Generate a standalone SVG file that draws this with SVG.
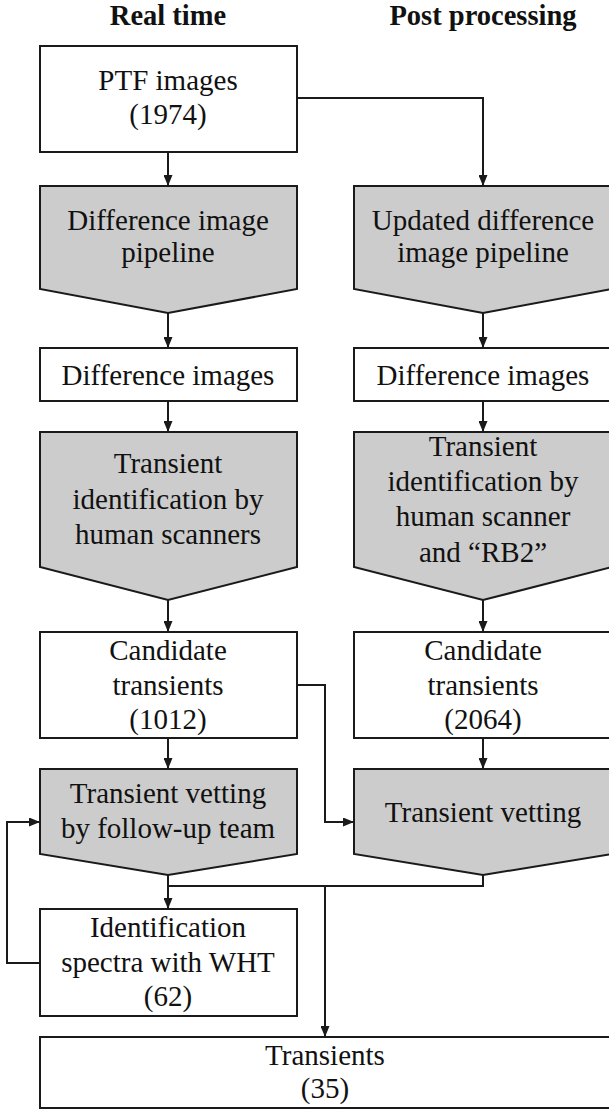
<svg xmlns="http://www.w3.org/2000/svg" width="609" height="1110" viewBox="0 0 609 1110">
<style>
.box{fill:#fff;stroke:#1a1a1a;stroke-width:2}
.proc{fill:#cccccc;stroke:#1a1a1a;stroke-width:2}
.conn{fill:none;stroke:#1a1a1a;stroke-width:2}
text{font-family:"Liberation Serif","Times New Roman",serif;font-size:29px;fill:#111;text-anchor:middle}
.title{font-weight:bold;font-size:28.5px}
</style>
<defs>
<marker id="ah" markerUnits="userSpaceOnUse" markerWidth="11" markerHeight="9" refX="10" refY="4.5" orient="auto">
<path d="M0,0 L11,4.5 L0,9 z" fill="#1a1a1a"/>
</marker>
</defs>
<g id="titles">
<text class="title" x="168" y="25">Real time</text>
<text class="title" x="483" y="25">Post processing</text>
</g>
<g id="connectors">
<path class="conn" d="M168,152 V185" marker-end="url(#ah)"/>
<path class="conn" d="M297,98 H483 V185" marker-end="url(#ah)"/>
<path class="conn" d="M168,313 V347" marker-end="url(#ah)"/>
<path class="conn" d="M483,313 V347" marker-end="url(#ah)"/>
<path class="conn" d="M168,401 V431" marker-end="url(#ah)"/>
<path class="conn" d="M483,401 V431" marker-end="url(#ah)"/>
<path class="conn" d="M168,600 V631" marker-end="url(#ah)"/>
<path class="conn" d="M483,600 V631" marker-end="url(#ah)"/>
<path class="conn" d="M168,738 V768" marker-end="url(#ah)"/>
<path class="conn" d="M483,738 V768" marker-end="url(#ah)"/>
<path class="conn" d="M297,685 H325 V822 H353" marker-end="url(#ah)"/>
<path class="conn" d="M168,875 V886 H483 V875"/>
<path class="conn" d="M168,886 V908" marker-end="url(#ah)"/>
<path class="conn" d="M325,886 V1036" marker-end="url(#ah)"/>
<path class="conn" d="M40,963 H7 V822 H39" marker-end="url(#ah)"/>
</g>
<g id="ptf">
<rect class="box" x="40" y="46" width="257" height="106"/>
<text x="168" y="90">PTF images</text>
<text x="168" y="124">(1974)</text>
</g>
<g id="pipeline-rt">
<path class="proc" d="M40,186 H297 V289 L168,313 L40,289 Z"/>
<text x="168" y="230">Difference image</text>
<text x="168" y="262">pipeline</text>
</g>
<g id="pipeline-pp">
<path class="proc" d="M354,186 H612 V289 L483,313 L354,289 Z"/>
<text x="483" y="230">Updated difference</text>
<text x="483" y="262">image pipeline</text>
</g>
<g id="diff-rt">
<rect class="box" x="40" y="348" width="257" height="53"/>
<text x="168" y="385">Difference images</text>
</g>
<g id="diff-pp">
<rect class="box" x="354" y="348" width="258" height="53"/>
<text x="483" y="385">Difference images</text>
</g>
<g id="ident-rt">
<path class="proc" d="M40,432 H297 V567 L168,600 L40,567 Z"/>
<text x="168" y="473">Transient</text>
<text x="168" y="509">identification by</text>
<text x="168" y="544">human scanners</text>
</g>
<g id="ident-pp">
<path class="proc" d="M354,432 H612 V567 L483,600 L354,567 Z"/>
<text x="483" y="456">Transient</text>
<text x="483" y="491">identification by</text>
<text x="483" y="526">human scanner</text>
<text x="483" y="562">and “RB2”</text>
</g>
<g id="cand-rt">
<rect class="box" x="40" y="632" width="257" height="106"/>
<text x="168" y="660">Candidate</text>
<text x="168" y="695">transients</text>
<text x="168" y="729">(1012)</text>
</g>
<g id="cand-pp">
<rect class="box" x="354" y="632" width="258" height="106"/>
<text x="483" y="660">Candidate</text>
<text x="483" y="695">transients</text>
<text x="483" y="729">(2064)</text>
</g>
<g id="vet-rt">
<path class="proc" d="M40,769 H297 V854 L168,875 L40,854 Z"/>
<text x="168" y="803">Transient vetting</text>
<text x="168" y="838">by follow-up team</text>
</g>
<g id="vet-pp">
<path class="proc" d="M354,769 H612 V854 L483,875 L354,854 Z"/>
<text x="483" y="822">Transient vetting</text>
</g>
<g id="spectra">
<rect class="box" x="40" y="909" width="257" height="107"/>
<text x="168" y="937">Identification</text>
<text x="168" y="972">spectra with WHT</text>
<text x="168" y="1006">(62)</text>
</g>
<g id="transients">
<rect class="box" x="40" y="1037" width="572" height="71"/>
<text x="325" y="1065">Transients</text>
<text x="325" y="1098">(35)</text>
</g>
</svg>
